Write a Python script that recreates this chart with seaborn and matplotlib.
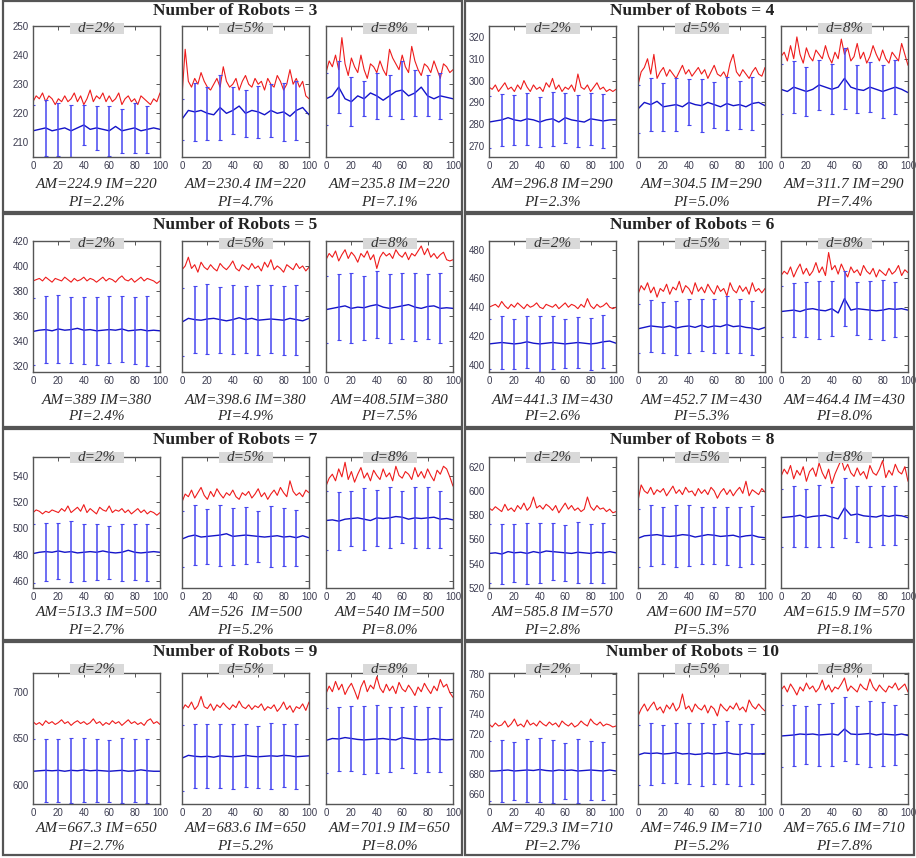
import matplotlib
matplotlib.use('Agg')
import matplotlib.pyplot as plt
from matplotlib.patches import Rectangle
import seaborn as sns

# number of robots per panel and disturbance levels
robots = [3, 4, 5, 6, 7, 8, 9, 10]
d_labels = ['d=2%', 'd=5%', 'd=8%']

# x positions of the samples
x_red = [i * 2.5 for i in range(41)]
x_blue = [i * 5 for i in range(21)]
x_bar = [i * 10 for i in range(10)]

# y axis ranges / ticks per panel
ylims = [(205, 250), (265, 325), (315, 420), (395, 486), (455, 554), (520, 628), (580, 720), (650, 781)]
yticks = [list(range(210, 251, 10)), list(range(270, 321, 10)), list(range(320, 421, 20)),
          list(range(400, 481, 20)), list(range(460, 541, 20)), list(range(520, 621, 20)),
          [600, 650, 700], list(range(660, 781, 20))]

# annotations under each subplot
am_labels = [['AM=224.9 IM=220', 'AM=230.4 IM=220', 'AM=235.8 IM=220'],
             ['AM=296.8 IM=290', 'AM=304.5 IM=290', 'AM=311.7 IM=290'],
             ['AM=389 IM=380', 'AM=398.6 IM=380', 'AM=408.5IM=380'],
             ['AM=441.3 IM=430', 'AM=452.7 IM=430', 'AM=464.4 IM=430'],
             ['AM=513.3 IM=500', 'AM=526  IM=500', 'AM=540 IM=500'],
             ['AM=585.8 IM=570', 'AM=600 IM=570', 'AM=615.9 IM=570'],
             ['AM=667.3 IM=650', 'AM=683.6 IM=650', 'AM=701.9 IM=650'],
             ['AM=729.3 IM=710', 'AM=746.9 IM=710', 'AM=765.6 IM=710']]
pi_values = [[2.2, 4.7, 7.1], [2.3, 5.0, 7.4], [2.4, 4.9, 7.5], [2.6, 5.3, 8.0],
             [2.7, 5.2, 8.0], [2.8, 5.3, 8.1], [2.7, 5.2, 8.0], [2.7, 5.2, 7.8]]

# ---- robots = 3 ----
red_3 = [
    [224,226,225,227,224,226,225,223,225,224,226,224,225,227,224,226,223,225,228,224,226,225,227,224,226,224,225,227,223,225,226,224,225,223,226,225,224,223,225,224,227],
    [226,242,231,229,232,230,234,231,229,228,230,232,229,236,231,229,230,232,228,231,233,230,229,232,230,231,228,232,230,229,233,231,228,230,235,230,232,229,231,226,225],
    [234,238,236,240,235,246,237,233,239,236,234,240,235,232,237,236,234,238,235,233,242,239,237,235,240,236,234,243,238,235,233,237,236,234,238,235,232,237,236,234,235]]
blue_3 = [
    [214,214.5,215,214,214.5,215,214,215,216,214.5,215,214.5,214,215.5,214,214.5,215,214,214.5,215,214.5],
    [218,221,220.5,221,220,219.5,222,220,221,222.5,220,221,220.5,219.5,221,220,220.5,219,221,222,219.5],
    [225,226,229,225,224,226,225,227,226,224.5,226,227.5,228,226,227,229,226,225,226,225.5,225]]
err_3 = [[9,9.5,9,9,7,7.5,8.5,7.5,8.5,8], [7,10,9,11,8,8,9,9,10,10], [9,9,8.5,6,8,7,10,8,7,8]]

# ---- robots = 4 ----
red_4 = [
    [297,296,298,295,297,299,296,297,295,298,296,300,297,295,298,296,297,295,299,297,301,296,298,295,297,296,298,295,303,297,296,298,295,297,299,296,297,295,296,295,296],
    [298,304,306,310,303,312,301,304,306,302,305,303,301,304,307,303,305,302,304,306,303,305,301,304,307,303,302,304,301,308,312,304,302,305,303,301,304,306,303,302,306],
    [311,313,309,316,310,320,312,308,315,311,309,314,312,310,316,311,308,313,310,319,312,315,309,311,317,310,313,308,311,316,312,309,314,310,308,313,311,309,317,312,307]]
blue_4 = [
    [281,281.5,282,283,282,281.5,282.5,282,281,282,282.5,281,283,282,281.5,281,282.5,282,281.5,282,282],
    [287,290,289,290.5,288,288.5,289,288,290,289,288.5,290,289,288,289.5,288.5,289,288,289.5,290,288.5],
    [296,295,297,296,295,296,298,297,296,297,301,297,296,295.5,297,296,295,296,297,296,294.5]]
err_4 = [[12,12,11.5,12,11.5,12.5,11.5,12,12,12.5], [11,12,11,12,10.5,12,10.5,12,11,12], [11.5,12,11,11.5,11.5,14,11,11.5,12,12.5]]

# ---- robots = 5 ----
red_5 = [
    [388,389,390,388,391,389,387,390,389,388,391,389,387,390,388,389,391,388,390,389,387,389,391,388,390,389,387,390,392,389,388,390,387,389,391,388,390,389,388,386,388],
    [397,400,407,398,401,395,403,399,397,401,398,396,402,399,397,400,404,398,396,401,399,397,402,398,400,396,403,399,405,397,400,398,395,401,399,397,402,398,400,396,399],
    [405,410,407,412,404,409,413,406,411,408,403,410,407,412,405,409,398,407,411,408,410,406,413,409,407,411,405,410,408,412,416,409,414,407,410,406,409,411,405,404,405]]
blue_5 = [
    [347.5,348.5,349,348,349.5,348.5,349,350,348.5,349,348,348.5,349,348.5,349.5,348,348.5,349,348,348.5,348],
    [355,358,357,356.5,357.5,358,357,356,357,358.5,357,358,356.5,357,357.5,357,356.5,358,357,356,358],
    [365,366,367,368,366,367,366.5,368,369,367,366,367,368,369,367,366,367.5,368,366,366.5,366]]
err_5 = [[27,27,27.5,26.5,27,27.5,27,26.5,27,28], [27,27,28,26.5,27.5,27,28,27,27.5,28], [27,26.5,28,25.5,27,27.5,26.5,27,26,28]]

# ---- robots = 6 ----
red_6 = [
    [440,441,442,440,444,441,439,442,440,443,441,439,442,440,441,443,440,439,442,441,440,442,439,441,443,440,442,441,439,442,440,446,441,439,442,440,441,443,440,439,440],
    [449,455,452,457,450,454,447,453,451,456,449,454,452,458,450,455,453,449,457,451,454,450,456,452,449,455,451,453,448,457,452,450,455,451,454,449,457,451,453,450,453],
    [462,465,463,468,461,466,470,463,467,462,465,471,464,468,462,478,466,469,463,470,465,461,468,464,466,462,469,465,463,467,461,466,464,462,467,463,465,469,462,466,464]]
blue_6 = [
    [414.5,415,415.5,415,414.5,415,416,415,414.5,415,415.5,415,414.5,415,415.5,415,414.5,415,416,416.5,415],
    [425,426,427,426.5,426,427,425.5,426.5,427,426,427.5,426,427,426.5,428,426.5,427,426,425.5,424.5,426],
    [437,437.5,438,437,438.5,439,438,437.5,439,436,446,438,439,438.5,438,437.5,438,439,438.5,439,438]]
err_6 = [[17.5,18.5,17.5,18,19.5,18.5,17,17.5,18,18.5], [17,18,17.5,18.5,19,18,19,19.5,19,18.5], [17.5,19,19,20,19,19,18.5,20,21,19]]

# ---- robots = 7 ----
red_7 = [
    [512,514,513,511,513,512,514,513,512,515,513,517,512,514,516,513,518,512,515,513,511,516,514,513,517,512,514,513,515,512,514,511,513,515,512,514,511,513,512,510,512],
    [520,526,524,529,523,527,531,525,522,528,524,530,526,523,527,525,529,524,522,527,525,528,523,526,530,524,527,522,526,529,525,531,527,524,536,528,525,527,524,529,527],
    [532,538,541,536,545,539,550,537,543,535,541,546,538,542,536,544,540,537,545,539,542,536,547,540,538,543,541,537,546,539,543,538,545,540,536,544,541,547,545,539,532]]
blue_7 = [
    [481,482,482.5,482,483,482,482.5,481.5,482,482.5,482,483,482,481.5,482,483.5,482,481.5,482,482.5,482],
    [492,494,495,493.5,494,494.5,495,496,494,494.5,495,494.5,494,493.5,494,494.5,493.5,494,493,494.5,493],
    [506,506.5,505.5,507,507.5,508,507,506,508,507.5,508,509,508.5,507,508,507.5,508,508.5,507,507.5,506.5]]
err_7 = [[22,22,21,23,21.5,21,20,21.5,21,21.5], [21,22.5,21,23,21.5,21.5,19.5,23,22,21], [22,22,21,23.5,21,23,19.5,23,23,21.5]]

# ---- robots = 8 ----
red_8 = [
    [586,584,587,585,583,589,584,586,583,588,585,590,584,587,595,586,588,585,589,587,584,588,582,586,590,585,588,584,586,583,585,595,587,584,588,585,586,583,585,582,583],
    [592,605,600,598,603,597,601,599,602,596,600,604,598,601,597,603,599,600,596,602,598,601,597,603,600,594,599,602,597,601,596,600,603,598,608,596,601,599,597,602,599],
    [612,618,614,621,610,617,613,620,608,616,619,612,623,615,610,618,606,614,620,626,617,622,615,612,619,613,616,610,621,615,613,618,625,611,617,613,622,616,614,620,608]]
blue_8 = [
    [548.5,549,548,550,549,549.5,548.5,550,549,550.5,550,549.5,549,548.5,549.5,549,548.5,549.5,549,550,549],
    [561,563,563.5,564,563,562.5,563,564,563.5,562,563,564,563.5,562.5,563,563.5,562,563,563.5,562,561.5],
    [578,578.5,579,580,578,579,579.5,580,578.5,577,586,580,581,579.5,579,578.5,580,579,580,579.5,578]]
err_8 = [[24,25,24,25.5,24.5,23.5,23,25,24,24.5], [24,25,23.5,25.5,25,23.5,23.5,24,25,24], [24,25.5,24,25.5,25,25,23,25,24.5,24.5]]

# ---- robots = 9 ----
red_9 = [
    [668,665,667,664,669,666,668,665,667,670,666,668,664,667,669,666,668,665,667,671,666,668,664,667,665,669,666,668,664,667,670,666,668,665,667,664,669,671,666,668,665],
    [680,686,683,689,681,685,695,684,682,687,680,686,683,688,684,681,686,683,690,684,682,686,681,685,683,687,680,684,682,686,679,683,689,681,685,678,684,682,687,680,689],
    [698,706,700,711,702,708,697,704,709,701,692,705,712,700,707,703,716,704,699,708,701,706,698,710,703,700,707,702,696,705,700,709,703,698,706,701,713,705,708,699,694]]
blue_9 = [
    [615,615.5,616,615.5,616,615,616,615.5,616.5,615.5,616,615.5,615,615.5,616,615,615.5,616.5,615.5,615,615],
    [629,632,631,630.5,631,630,631.5,631,630.5,631,632,631,630.5,631,631.5,631,632,631.5,630.5,631,631.5],
    [648,650,649.5,651,650,649,648.5,649,649.5,650,649,648.5,651,650,649,648.5,649,650,649,648.5,649]]
err_9 = [[35,34,34,34.5,34,34,33,35,33.5,34], [35,34,34,34.5,35,34,33,35,34,34.5], [35,34.5,35,36,36.5,34.5,33,35.5,34.5,35]]

# ---- robots = 10 ----
red_10 = [
    [730,727,731,728,729,733,727,730,735,728,730,727,734,729,731,728,733,730,728,732,729,731,727,733,730,728,731,727,729,733,730,728,735,731,729,732,728,730,729,727,728],
    [738,745,750,743,748,752,744,747,741,749,745,751,743,747,760,745,748,742,750,746,744,749,741,748,745,738,750,746,743,748,745,751,744,747,742,754,748,745,750,746,743],
    [764,768,762,770,765,759,767,763,771,765,768,762,766,774,764,769,762,767,765,770,776,763,768,765,762,770,766,764,775,767,763,769,765,762,768,766,771,764,767,770,762]]
blue_10 = [
    [683,683,683.5,684,683,683.5,684,683.5,684.5,683.5,683,684,683.5,684,683,683.5,684,683.5,683,684,683],
    [699,701,700.5,701,700,700.5,701.5,700,700.5,699.5,700,701,700,700.5,701.5,700,699.5,701,700,700,700.5],
    [718,718.5,719,720,719.5,720,719,719.5,720,719,725,720,719.5,720,720.5,719,720,719.5,719,720,718.5]]
err_10 = [[30,31,29,31.5,32,31.5,28,32,29.5,29], [30,31,29,30,30.5,31.5,30,31.5,31,30], [31,30.5,29,31,31.5,32,29,33,32,30]]

red = [red_3, red_4, red_5, red_6, red_7, red_8, red_9, red_10]
blue = [blue_3, blue_4, blue_5, blue_6, blue_7, blue_8, blue_9, blue_10]
err = [err_3, err_4, err_5, err_6, err_7, err_8, err_9, err_10]

sns.set_theme(style='white')
plt.rcParams['font.family'] = ['Liberation Serif', 'DejaVu Serif']

W, H = 916, 858
fig = plt.figure(figsize=(W / 100, H / 100), dpi=100)

# layout in pixels
col_left = [[33, 182, 326], [489, 638, 781]]
title_x = [235, 692]
row_top = [26, 241, 457, 673]
title_y = [11, 225, 440, 652]
dbox_top = [23, 238, 452, 664]
am_y = [185, 401, 613, 829]
pi_y = [203, 416, 630, 846]
AX_W, AX_H = 127, 131
row_box = [(1, 212), (214, 427), (429, 640), (642, 855)]
col_box = [(3, 462), (465, 914)]

for r0, r1 in row_box:
    for c0, c1 in col_box:
        fig.patches.append(Rectangle((c0 / W, 1 - r1 / H), (c1 - c0) / W, (r1 - r0) / H,
                                     transform=fig.transFigure, fill=False,
                                     ec='#555555', lw=1.6))

for i, n in enumerate(robots):
    row, col = divmod(i, 2)
    top = row_top[row]
    fig.text(title_x[col] / W, 1 - title_y[row] / H, f'Number of Robots = {n}',
             ha='center', va='center', fontsize=12.5, fontweight='bold', color='#222222')
    for j in range(3):
        left = col_left[col][j]
        ax = fig.add_axes([left / W, 1 - (top + AX_H) / H, AX_W / W, AX_H / H])
        sns.lineplot(x=x_red, y=red[i][j], ax=ax, color='#ee1c1c', lw=0.8)
        sns.lineplot(x=x_blue, y=blue[i][j], ax=ax, color='#1414c8', lw=1.0)
        centers = blue[i][j][0:20:2]
        ax.errorbar(x_bar, centers, yerr=err[i][j], fmt='none', ecolor='#4646f0',
                    elinewidth=1.1, capsize=1.5, capthick=0.8)
        ax.set_xlim(0, 100)
        ax.set_ylim(*ylims[i])
        ax.set_xticks(range(0, 101, 20))
        ax.set_yticks(yticks[i])
        ax.set_xlabel('')
        ax.set_ylabel('')
        ax.tick_params(direction='in', top=True, right=True, length=3, width=0.7,
                       labelsize=7, colors='#555555', labelcolor='#3c3c50', pad=3,
                       labelfontfamily='Liberation Sans')
        if j > 0:
            ax.set_yticklabels([])
        for s in ax.spines.values():
            s.set_color('#555555')
            s.set_linewidth(1.0)

        cx = left + AX_W / 2
        fig.patches.append(Rectangle(((cx - 27) / W, 1 - (dbox_top[row] + 11) / H), 54 / W, 11 / H,
                                     transform=fig.transFigure, fc='#d9d9d9', ec='none'))
        fig.text(cx / W, 1 - (dbox_top[row] + 5.5) / H, d_labels[j], ha='center', va='center',
                 fontsize=11, style='italic', color='#333333')
        fig.text(cx / W, 1 - am_y[row] / H, am_labels[i][j], ha='center', va='center',
                 fontsize=11, style='italic', color='#2a2a2a')
        fig.text(cx / W, 1 - pi_y[row] / H, f'PI={pi_values[i][j]:.1f}%', ha='center', va='center',
                 fontsize=11, style='italic', color='#2a2a2a')

fig.savefig('out.png', dpi=100)
